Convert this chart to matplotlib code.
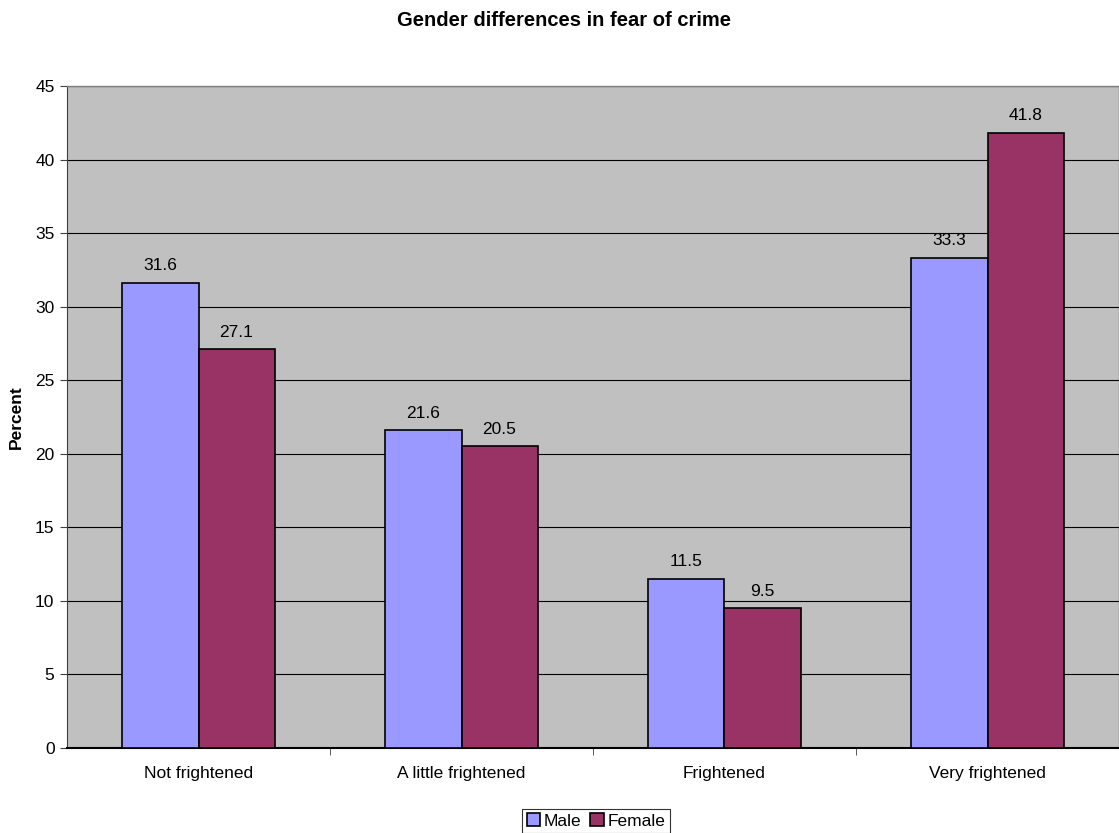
import numpy as np
import matplotlib.pyplot as plt

categories = ["Not frightened", "A little frightened", "Frightened", "Very frightened"]
male = [31.6, 21.6, 11.5, 33.3]
female = [27.1, 20.5, 9.5, 41.8]

plt.rcParams['font.family'] = ['Liberation Sans', 'DejaVu Sans']

fig = plt.figure(figsize=(11.19, 8.33), dpi=100)
ax = fig.add_axes([67/1119, (833-748)/833, 1 - 67/1119, (748-86)/833])

x = np.arange(len(categories))
w = 0.289
b1 = ax.bar(x - w/2, male, w, color="#9999FF", edgecolor="black", linewidth=1.2, label="Male", zorder=3)
b2 = ax.bar(x + w/2, female, w, color="#993366", edgecolor="black", linewidth=1.2, label="Female", zorder=3)

for bars, vals in [(b1, male), (b2, female)]:
    for r, v in zip(bars, vals):
        ax.annotate(f"{v:.1f}", (r.get_x() + r.get_width()/2, v), xytext=(0, 7),
                    textcoords="offset points", ha="center", va="bottom", fontsize=12.5)

ax.set_facecolor("#C0C0C0")
ax.set_xlim(-0.5, 3.5)
ax.set_ylim(0, 45)
ax.set_yticks(range(0, 46, 5))
ax.yaxis.grid(True, color="black", linewidth=0.8, zorder=0)
ax.set_axisbelow(True)

ax.set_xticks(x)
ax.set_xticklabels(categories, fontsize=12.5)
ax.set_xticks([0.5, 1.5, 2.5, 3.5], minor=True)
ax.tick_params(axis="x", which="major", length=0, pad=13)
ax.tick_params(axis="x", which="minor", length=5, color="#404040")
ax.tick_params(axis="y", length=5, labelsize=12.5, color="#404040", pad=4)

for s in ["top", "right"]:
    ax.spines[s].set_color("#808080")
    ax.spines[s].set_linewidth(1)
ax.spines["left"].set_color("#404040")
ax.spines["bottom"].set_color("black")
ax.spines["bottom"].set_linewidth(1.5)

ax.set_ylabel("Percent", fontsize=12.5, fontweight="bold", labelpad=8)
fig.text(564/1119, 1 - 21/833, "Gender differences in fear of crime", ha="center", va="center",
         fontsize=14.5, fontweight="bold")

leg = fig.legend(loc="lower center", bbox_to_anchor=(596/1119, 0.0), ncol=2, fontsize=12.5,
                 frameon=True, fancybox=False, edgecolor="black", handlelength=0.8,
                 handleheight=0.8, handletextpad=0.2, columnspacing=0.5, borderpad=0.25,
                 borderaxespad=0)
leg.get_frame().set_linewidth(0.8)

fig.savefig("out.png", dpi=100)
